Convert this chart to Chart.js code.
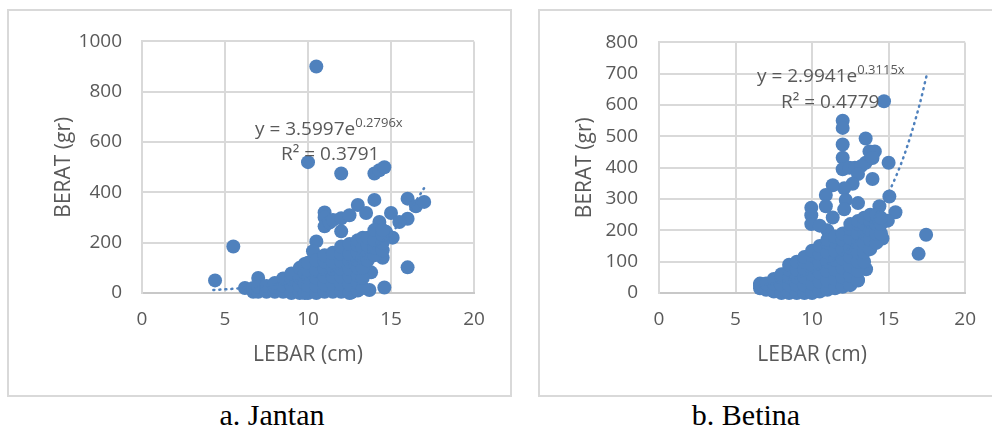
<!DOCTYPE html>
<html>
<head>
<meta charset="utf-8">
<script src="https://cdn.jsdelivr.net/npm/chart.js@4/dist/chart.umd.min.js"></script>
<style>
  body { margin: 0; width: 992px; height: 432px; background: #fff; position: relative; overflow: hidden; }
  .box { position: absolute; border: 2px solid #d9d9d9; box-sizing: border-box; }
  canvas { position: absolute; }
  .caption { position: absolute; width: 200px; text-align: center; font-family: "Liberation Serif", serif; font-size: 30px; line-height: 30px; color: #000; }
</style>
</head>
<body>
<div class="box" style="left:7px;top:9px;width:505px;height:388px;"></div>
<div class="box" style="left:538px;top:9px;width:460px;height:388px;"></div>
<canvas id="chartJantan" width="503" height="386" style="left:8px;top:10px;"></canvas>
<canvas id="chartBetina" width="452" height="386" style="left:539px;top:10px;"></canvas>
<div class="caption" style="left:172px;top:400px;">a. Jantan</div>
<div class="caption" style="left:646px;top:400px;">b. Betina</div>

<script>
// ---- data: [LEBAR (cm), BERAT (gr)] ----
const jantanPoints = [
  // scattered points
  [10.5, 900], [10.0, 520], [12.0, 475], [14.0, 475], [14.3, 488], [14.6, 500],
  [14.0, 370], [16.0, 375], [16.5, 345], [17.0, 362], [16.0, 295], [16.0, 102],
  [5.5, 185], [4.4, 50], [6.2, 20], [7.0, 60],
  [13.0, 350], [13.5, 318], [11.0, 320], [11.0, 300], [11.0, 265], [11.3, 280], [11.5, 290],
  [12.0, 297], [12.5, 309], [12.0, 245], [15.0, 318], [15.5, 282], [15.1, 220],
  [14.3, 282], [14.7, 243], [14.5, 140], [13.8, 82], [13.7, 12], [14.6, 22], [12.6, 2],
  [10.5, 205], [10.3, 166],
  // dense cloud
  [6.7, 5], [6.7, 20], [7, 5], [7, 25], [7.5, 5], [7.5, 28],
  [8, 5], [8, 25], [8, 40], [8.5, 5], [8.5, 30], [8.5, 58],
  [9, 0], [9, 30], [9, 55], [9, 78], [9.5, 0], [9.5, 30], [9.5, 60], [9.5, 100],
  [9.8, 0], [9.8, 40], [9.8, 80], [9.8, 115],
  [10, 0], [10, 30], [10, 60], [10, 90], [10, 120],
  [10.5, 0], [10.5, 30], [10.5, 60], [10.5, 90], [10.5, 130],
  [11, 5], [11, 35], [11, 65], [11, 95], [11, 125], [11, 150],
  [11.5, 5], [11.5, 35], [11.5, 65], [11.5, 95], [11.5, 125], [11.5, 160],
  [12, 5], [12, 35], [12, 65], [12, 95], [12, 125], [12, 155], [12, 185],
  [12.5, 0], [12.5, 35], [12.5, 65], [12.5, 95], [12.5, 125], [12.5, 155], [12.5, 195],
  [13, 10], [13, 40], [13, 70], [13, 100], [13, 130], [13, 160], [13, 190], [13, 210],
  [13.3, 20], [13.3, 60], [13.3, 100], [13.3, 140], [13.3, 180], [13.3, 220],
  [13.6, 130], [13.6, 160], [13.6, 190], [13.6, 220],
  [14, 150], [14, 180], [14, 210], [14, 250],
  [14.5, 170], [14.5, 200], [14.5, 230], [14.5, 250]
];

const betinaPoints = [
  // scattered points
  [14.7, 612], [12.0, 550], [12.0, 527], [12.0, 474], [12.0, 432], [12.0, 395],
  [13.5, 493], [13.75, 452], [14.1, 452], [13.5, 416], [13.95, 431], [13.95, 364], [15.0, 416],
  [12.45, 400], [12.8, 400], [13.2, 405], [13.0, 380], [12.65, 349], [12.1, 334], [11.35, 344],
  [10.9, 313], [10.9, 277], [11.35, 241], [12.2, 297], [12.1, 267], [13.0, 287],
  [9.95, 272], [9.95, 248], [9.95, 220], [11.0, 200], [10.5, 215],
  [15.05, 308], [15.45, 258], [14.4, 277], [14.95, 231], [14.6, 174], [17.45, 186], [16.96, 125],
  [13.53, 76], [13.0, 42], [12.65, 50], [6.6, 25], [6.9, 20],
  // dense cloud
  [6.6, 15], [6.6, 30], [7, 10], [7, 30], [7.5, 5], [7.5, 30], [7.5, 45],
  [8, 0], [8, 25], [8, 50], [8, 60],
  [8.5, 0], [8.5, 25], [8.5, 50], [8.5, 75], [8.5, 90],
  [9, 0], [9, 25], [9, 50], [9, 75], [9, 100],
  [9.5, 0], [9.5, 25], [9.5, 50], [9.5, 75], [9.5, 100], [9.5, 115],
  [10, 0], [10, 30], [10, 60], [10, 90], [10, 120], [10, 135],
  [10.5, 5], [10.5, 35], [10.5, 65], [10.5, 95], [10.5, 125], [10.5, 150],
  [11, 10], [11, 40], [11, 70], [11, 100], [11, 130], [11, 160], [11, 170],
  [11.5, 15], [11.5, 45], [11.5, 75], [11.5, 105], [11.5, 135], [11.5, 165], [11.5, 180],
  [12, 20], [12, 50], [12, 80], [12, 110], [12, 140], [12, 170], [12, 190],
  [12.5, 25], [12.5, 55], [12.5, 85], [12.5, 115], [12.5, 145], [12.5, 175], [12.5, 205], [12.5, 220],
  [13, 40], [13, 70], [13, 100], [13, 130], [13, 160], [13, 190], [13, 220], [13, 230],
  [13.4, 100], [13.4, 130], [13.4, 160], [13.4, 190], [13.4, 220], [13.4, 240],
  [13.8, 140], [13.8, 170], [13.8, 200], [13.8, 230], [13.8, 250],
  [14.2, 160], [14.2, 190], [14.2, 220], [14.2, 250],
  [14.5, 190], [14.5, 220], [14.5, 240]
];

// exponential trendlines (values of the equations printed on the charts)
const jantanTrendX = [4.3, 5, 6, 7, 8, 9, 10, 11, 12, 13, 14, 15, 16, 17];
const jantanTrendY = [12.0, 14.6, 19.3, 25.5, 33.7, 44.6, 59.0, 78.0, 103.1, 136.4, 180.4, 238.6, 315.6, 417.4];
const betinaTrendX = [6.6, 7, 8, 9, 10, 11, 12, 13, 14, 15, 16, 17, 17.5];
const betinaTrendY = [23.4, 26.5, 36.2, 49.4, 67.5, 92.1, 125.8, 171.8, 234.6, 320.3, 437.3, 597.1, 697.7];

const xTitle = 'LEBAR (cm)';
const yTitle = 'BERAT (gr)';
const jantanEquation = ['y = 3.5997e', '0.2796x', 'R² = 0.3791'];
const betinaEquation = ['y = 2.9941e', '0.3115x', 'R² = 0.4779'];

const BLUE = '#4f81bd';
const GREY_TEXT = '#595959';
const GRID = '#d9d9d9';

Chart.defaults.font.family = '"Open Sans", sans-serif';

const equationLabels = {
  id: 'equationLabels',
  afterDatasetsDraw(chart, args, opts) {
    const ctx = chart.ctx;
    const area = chart.chartArea;
    const eq = opts.text;
    ctx.save();
    ctx.fillStyle = GREY_TEXT;
    ctx.textBaseline = 'alphabetic';
    ctx.textAlign = 'left';
    ctx.font = '19px "Open Sans"';
    let x = area.left + opts.line1[0];
    const y1 = area.top + opts.line1[1];
    ctx.fillText(eq[0], x, y1);
    x += ctx.measureText(eq[0]).width;
    ctx.font = '13px "Open Sans"';
    ctx.fillText(eq[1], x, y1 - 8);
    ctx.font = '19px "Open Sans"';
    ctx.fillText(eq[2], area.left + opts.line2[0], area.top + opts.line2[1]);
    ctx.restore();
  }
};

function toXY(xs, ys) {
  return xs.map((x, i) => ({ x: x, y: ys[i] }));
}

function drawChart(canvasId, points, trendX, trendY, yMax, yStep, cfg) {
  const ctx = document.getElementById(canvasId);
  new Chart(ctx, {
    type: 'scatter',
    data: {
      datasets: [
        {
          type: 'line',
          data: toXY(trendX, trendY),
          borderColor: BLUE,
          borderWidth: 2.5,
          borderDash: [1, 5],
          borderCapStyle: 'round',
          pointRadius: 0,
          cubicInterpolationMode: 'monotone',
          clip: false,
          order: 0,
        },
        {
          data: points.map(p => ({ x: p[0], y: p[1] })),
          backgroundColor: BLUE,
          borderWidth: 0,
          pointRadius: 7,
          clip: false,
          order: 1,
        },
      ],
    },
    options: {
      responsive: false,
      animation: false,
      events: [],
      layout: { padding: { left: 0, top: 24, right: cfg.padRight, bottom: 0 } },
      plugins: {
        legend: { display: false },
        tooltip: { enabled: false },
        equationLabels: { text: cfg.equation, line1: cfg.line1, line2: cfg.line2 },
      },
      scales: {
        x: {
          type: 'linear',
          min: 0,
          max: 20,
          ticks: { stepSize: 5, color: GREY_TEXT, font: { size: 19 }, padding: 15, callback: v => String(v) },
          grid: { color: GRID, lineWidth: 2, drawTicks: false },
          border: { color: '#c8c8c8', width: 2 },
          title: { display: true, text: xTitle, color: GREY_TEXT, font: { size: 21 }, padding: { top: 0, bottom: 28 } },
          afterFit: s => { s.height = 103; },
        },
        y: {
          min: 0,
          max: yMax,
          ticks: { stepSize: yStep, color: GREY_TEXT, font: { size: 19 }, padding: cfg.tickPad, callback: v => String(v) },
          grid: { color: GRID, lineWidth: 2, drawTicks: false },
          border: { color: GRID, width: 2 },
          title: { display: true, text: yTitle, color: GREY_TEXT, font: { size: 21 }, padding: { top: cfg.titlePad, bottom: 0 } },
          afterFit: s => { s.width = cfg.yWidth; },
        },
      },
    },
    plugins: [equationLabels],
  });
}

drawChart('chartJantan', jantanPoints, jantanTrendX, jantanTrendY, 1000, 200, {
  padRight: 37, yWidth: 134, tickPad: 20, titlePad: 43,
  equation: jantanEquation, line1: [113, 94], line2: [139, 119],
});
drawChart('chartBetina', betinaPoints, betinaTrendX, betinaTrendY, 800, 100, {
  padRight: 25, yWidth: 120, tickPad: 21, titlePad: 33,
  equation: betinaEquation, line1: [98, 40], line2: [122, 66],
});
</script>
</body>
</html>
